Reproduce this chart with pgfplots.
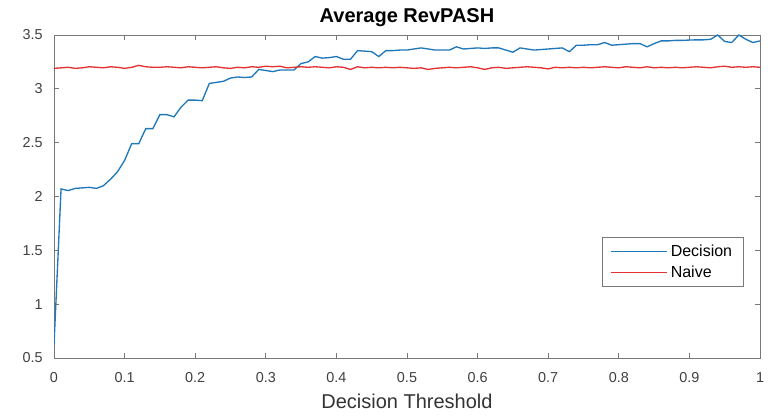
\documentclass[border=0pt]{standalone}
\usepackage{fontspec}
\setmainfont{Liberation Sans}
\usepackage{pgfplots}
\pgfplotsset{compat=1.18}
\usepackage{pgfplotstable}

\definecolor{decblue}{RGB}{30,120,185}
\definecolor{naivered}{RGB}{228,50,50}
\definecolor{axgray}{RGB}{120,120,120}

% Average RevPASH against the decision threshold
\pgfplotstableread{
x     dec    naive
0.00  0.62   3.190
0.01  2.070  3.195
0.02  2.055  3.200
0.03  2.075  3.190
0.04  2.080  3.195
0.05  2.085  3.205
0.06  2.075  3.200
0.07  2.100  3.195
0.08  2.160  3.205
0.09  2.230  3.200
0.10  2.335  3.190
0.11  2.490  3.200
0.12  2.490  3.218
0.13  2.630  3.205
0.14  2.630  3.200
0.15  2.760  3.200
0.16  2.760  3.205
0.17  2.740  3.200
0.18  2.830  3.195
0.19  2.895  3.205
0.20  2.895  3.200
0.21  2.890  3.195
0.22  3.050  3.200
0.23  3.060  3.205
0.24  3.070  3.195
0.25  3.100  3.190
0.26  3.110  3.200
0.27  3.105  3.195
0.28  3.110  3.205
0.29  3.180  3.200
0.30  3.170  3.210
0.31  3.160  3.205
0.32  3.175  3.210
0.33  3.175  3.195
0.34  3.175  3.200
0.35  3.235  3.205
0.36  3.250  3.200
0.37  3.300  3.205
0.38  3.285  3.200
0.39  3.290  3.195
0.40  3.300  3.205
0.41  3.275  3.200
0.42  3.275  3.180
0.43  3.355  3.205
0.44  3.350  3.195
0.45  3.345  3.200
0.46  3.300  3.195
0.47  3.355  3.200
0.48  3.355  3.195
0.49  3.360  3.200
0.50  3.360  3.195
0.51  3.370  3.190
0.52  3.380  3.195
0.53  3.370  3.180
0.54  3.360  3.190
0.55  3.360  3.195
0.56  3.360  3.200
0.57  3.390  3.195
0.58  3.370  3.200
0.59  3.375  3.205
0.60  3.380  3.195
0.61  3.375  3.180
0.62  3.380  3.195
0.63  3.380  3.200
0.64  3.360  3.190
0.65  3.340  3.195
0.66  3.380  3.200
0.67  3.370  3.205
0.68  3.360  3.200
0.69  3.365  3.195
0.70  3.370  3.185
0.71  3.375  3.200
0.72  3.380  3.195
0.73  3.345  3.200
0.74  3.405  3.195
0.75  3.405  3.200
0.76  3.410  3.195
0.77  3.410  3.200
0.78  3.430  3.205
0.79  3.405  3.200
0.80  3.410  3.195
0.81  3.415  3.205
0.82  3.420  3.200
0.83  3.420  3.195
0.84  3.390  3.205
0.85  3.420  3.195
0.86  3.445  3.200
0.87  3.445  3.195
0.88  3.450  3.200
0.89  3.450  3.195
0.90  3.453  3.200
0.91  3.455  3.205
0.92  3.455  3.200
0.93  3.460  3.195
0.94  3.500  3.205
0.95  3.440  3.210
0.96  3.430  3.200
0.97  3.500  3.205
0.98  3.460  3.200
0.99  3.430  3.205
1.00  3.445  3.200
}\revpash

\begin{document}
\begin{tikzpicture}
\begin{axis}[
  scale only axis,
  width=529.5pt, height=242.25pt,
  xmin=0, xmax=1, ymin=0.5, ymax=3.5,
  xtick={0,0.1,...,1}, ytick={0.5,1,...,3.5},
  xticklabels={0,0.1,0.2,0.3,0.4,0.5,0.6,0.7,0.8,0.9,1},
  yticklabels={0.5,1,1.5,2,2.5,3,3.5},
  tick align=inside,
  major tick length=3.75pt,
  axis line style={axgray, line width=0.7pt},
  every tick/.style={axgray, line width=0.7pt},
  tick label style={font=\fontsize{10.8}{12}\selectfont, text=black!75},
  xticklabel style={anchor=base, inner sep=0pt, yshift=-18.75pt},
  yticklabel style={anchor=east, inner sep=0pt, xshift=-8.25pt},
  title={\textbf{Average RevPASH}},
  title style={at={(0.5,1)}, anchor=base, yshift=3pt,
    font=\fontsize{15}{17}\selectfont, inner sep=0pt},
  xlabel={Decision Threshold},
  xlabel style={at={(0.5,0)}, anchor=base, yshift=-38.25pt,
    font=\fontsize{15}{17}\selectfont, text=black!80, inner sep=0pt},
  legend style={at={(0.976,0.375)}, anchor=north east,
    draw=axgray, fill=white,
    font=\fontsize{12}{13}\selectfont,
    inner xsep=6pt, inner ysep=2.9pt,
    nodes={inner ysep=2.75pt}},
  legend cell align=left,
  legend image code/.code={%
    \begin{scope}\draw[#1] (0pt,0pt) -- (42pt,0pt);\end{scope}},
]
\addplot[color=decblue, line width=1pt] table[x=x, y=dec] {\revpash};
\addlegendentry{Decision}
\addplot[color=naivered, line width=1pt] table[x=x, y=naive] {\revpash};
\addlegendentry{Naive}
\coordinate (bl) at (rel axis cs:0,0);
\coordinate (tr) at (rel axis cs:1,1);
\end{axis}
\pgfresetboundingbox
\useasboundingbox ([shift={(-40.5pt,-43.5pt)}]bl) rectangle ([shift={(9pt,26.25pt)}]tr);
\end{tikzpicture}
\end{document}
